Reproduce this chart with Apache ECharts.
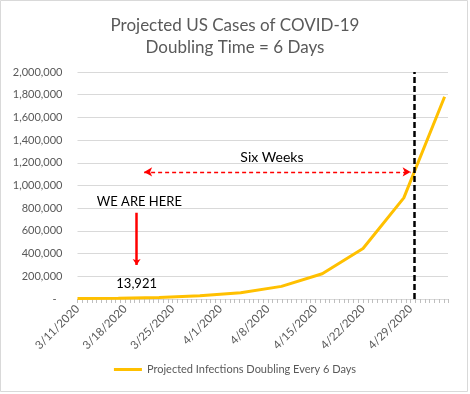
<!DOCTYPE html>
<html><head><meta charset="utf-8">
<script src="https://cdn.jsdelivr.net/npm/echarts@6/dist/echarts.min.js"></script>
<style>html,body{margin:0;padding:0;background:#fff}#c{width:470px;height:394px}</style>
</head><body><div id="c"></div>
<script>
// Days since 3/11/2020 at which projected values are plotted (every 6 days)
const dayOffsets = [0, 6, 12, 18, 24, 30, 36, 42, 48, 54];
const projectedInfections = [3480, 6960, 13921, 27842, 55684, 111368, 222736, 445472, 890944, 1781888];
const xTickLabels = ['3/11/2020','3/18/2020','3/25/2020','4/1/2020','4/8/2020','4/15/2020','4/22/2020','4/29/2020'];
const seriesName = 'Projected Infections Doubling Every 6 Days';
const currentCases = 13921;

const font = 'Lato, "Noto Sans", sans-serif';
const gray = '#595959';

const chart = echarts.init(document.getElementById('c'), null, {renderer: 'canvas'});
chart.setOption({
  animation: false,
  backgroundColor: '#fff',
  textStyle: {fontFamily: font},
  title: {
    text: 'Projected US Cases of COVID-19\nDoubling Time = 6 Days',
    left: 'center', top: 10,
    textStyle: {fontFamily: font, fontSize: 17, fontWeight: 'normal', color: gray, lineHeight: 22}
  },
  graphic: [{type: 'rect', shape: {x: 0.5, y: 0.5, width: 467, height: 391}, style: {fill: 'none', stroke: '#d9d9d9', lineWidth: 1}, silent: true}],
  grid: {left: 77.5, right: 22, top: 72, bottom: 95},
  legend: {
    bottom: 14, left: 'center', icon: 'rect', itemWidth: 28, itemHeight: 3, itemGap: 4,
    textStyle: {fontFamily: font, fontSize: 11, color: gray},
    data: [seriesName]
  },
  xAxis: {
    type: 'value', min: 0, max: 54.5, interval: 7,
    axisLine: {show: true, lineStyle: {color: '#d9d9d9'}},
    axisTick: {show: true, length: 4, lineStyle: {color: '#bfbfbf'}},
    minorTick: {show: true, splitNumber: 10, length: 4, lineStyle: {color: '#bfbfbf'}},
    splitLine: {show: false},
    axisLabel: {
      rotate: 45, fontSize: 11.5, color: gray, fontFamily: font, margin: 8,
      formatter: v => (v % 7 === 0 && xTickLabels[v / 7]) ? xTickLabels[v / 7] : ''
    }
  },
  yAxis: {
    type: 'value', min: 0, max: 2000000, interval: 200000,
    axisLine: {show: false}, axisTick: {show: false},
    splitLine: {lineStyle: {color: '#d9d9d9'}},
    axisLabel: {
      fontSize: 11, color: gray, fontFamily: font, margin: 15,
      formatter: v => v === 0 ? '{d|-}' : v.toLocaleString('en-US'),
      rich: {d: {fontSize: 11, color: gray, padding: [0, 6, 0, 0]}}
    }
  },
  series: [{
    name: seriesName, type: 'line', showSymbol: false, symbol: 'none',
    data: dayOffsets.map((d, i) => [d, projectedInfections[i]]),
    lineStyle: {color: '#FFC000', width: 3},
    itemStyle: {color: '#FFC000'},
    markLine: {
      silent: true, animation: false,
      label: {show: false},
      data: [
        [{coord: [49.6, 0], symbol: 'none', lineStyle: {color: '#000', type: [6, 3], width: 2.5}},
         {coord: [49.6, 2000000], symbol: 'none'}],
        [{coord: [9.8, 1120000], symbol: 'arrow', symbolSize: [7, 8], lineStyle: {color: '#ff0000', type: [4, 3], width: 1.3}},
         {coord: [49.0, 1120000], symbol: 'arrow', symbolSize: [7, 8]}],
        [{coord: [8.7, 760000], symbol: 'none', lineStyle: {color: '#ff0000', type: 'solid', width: 2.5}},
         {coord: [8.7, 300000], symbol: 'arrow', symbolSize: [6, 6]}]
      ]
    },
    markPoint: {
      silent: true, animation: false,
      symbol: 'circle', symbolSize: 0,
      label: {show: true, position: 'inside', color: '#000', fontFamily: font, fontSize: 13},
      data: [
        {coord: [9.1, 860000], value: 0, label: {formatter: 'WE ARE HERE'}},
        {coord: [8.7, 135000], value: currentCases, label: {formatter: () => currentCases.toLocaleString('en-US')}},
        {coord: [28.6, 1250000], value: 0, label: {formatter: 'Six Weeks', fontSize: 14}}
      ]
    }
  }]
});
</script></body></html>
